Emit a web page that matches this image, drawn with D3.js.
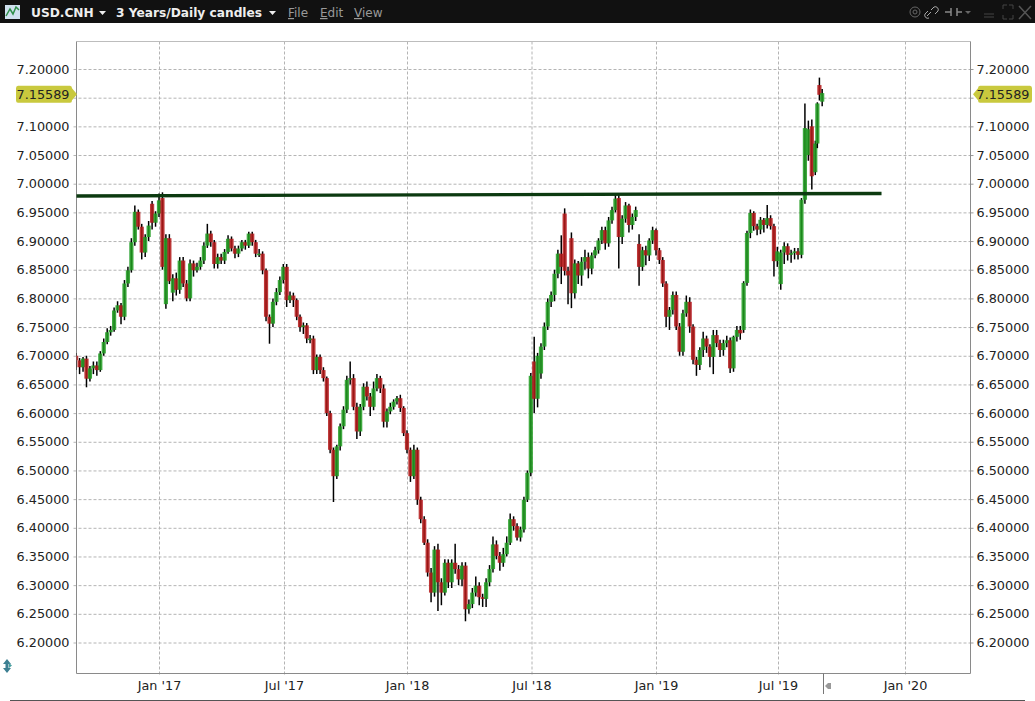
<!DOCTYPE html>
<html><head><meta charset="utf-8">
<script src="https://cdn.jsdelivr.net/npm/d3@7/dist/d3.min.js"></script>
<style>
html,body{margin:0;padding:0;background:#fff;overflow:hidden}
text{font-family:"DejaVu Sans",sans-serif}
</style></head><body><div id="chart"></div>
<script>
const title = "USD.CNH";
const period = "3 Years/Daily candles";
const menus = ["File","Edit","View"];
const lastPrice = 7.15589;
const yTicks = [6.2,6.25,6.3,6.35,6.4,6.45,6.5,6.55,6.6,6.65,6.7,6.75,6.8,6.85,6.9,6.95,7.0,7.05,7.1,7.15,7.2];
const xTickDates = ["2017-01-01","2017-07-01","2018-01-01","2018-07-01","2019-01-01","2019-07-01","2020-01-01"];
const xTickLabels = ["Jan '17","Jul '17","Jan '18","Jul '18","Jan '19","Jul '19","Jan '20"];
const supportDates = ["2016-09-01","2019-11-28"];
const supportValues = [6.9786,6.983];
const firstCandle = "2016-09-03";
const candleStepDays = 5;
const lastCandleDates = ["2019-08-27","2019-08-30","2019-09-03"];
const opens = [
6.700,6.692,6.680,6.695,6.660,6.678,6.683,6.675,6.704,6.724,
6.741,6.745,6.779,6.788,6.768,6.826,6.849,6.898,6.951,6.925,
6.880,6.907,6.965,6.932,6.948,6.975,6.790,6.905,6.810,6.835,
6.815,6.866,6.826,6.800,6.861,6.849,6.855,6.866,6.892,6.913,
6.898,6.860,6.872,6.866,6.881,6.904,6.887,6.878,6.887,6.898,
6.892,6.913,6.898,6.878,6.878,6.849,6.768,6.756,6.794,6.811,
6.832,6.855,6.797,6.805,6.797,6.768,6.750,6.753,6.730,6.730,
6.675,6.698,6.675,6.661,6.600,6.536,6.490,6.542,6.577,6.606,
6.658,6.661,6.611,6.568,6.611,6.646,6.629,6.611,6.643,6.661,
6.643,6.585,6.603,6.611,6.620,6.626,6.609,6.565,6.536,6.490,
6.536,6.449,6.415,6.374,6.322,6.287,6.362,6.305,6.287,6.339,
6.305,6.339,6.328,6.310,6.334,6.258,6.267,6.287,6.299,6.279,
6.276,6.305,6.328,6.371,6.351,6.339,6.354,6.374,6.415,6.403,
6.383,6.397,6.449,6.496,6.690,6.625,6.669,6.716,6.751,6.794,
6.806,6.843,6.878,6.948,6.848,6.905,6.809,6.861,6.840,6.864,
6.872,6.852,6.875,6.884,6.901,6.919,6.896,6.936,6.954,6.975,
6.907,6.939,6.962,6.928,6.942,6.895,6.855,6.884,6.875,6.901,
6.919,6.884,6.867,6.826,6.768,6.780,6.806,6.751,6.707,6.774,
6.794,6.751,6.693,6.684,6.710,6.730,6.716,6.698,6.736,6.722,
6.710,6.722,6.727,6.678,6.733,6.745,6.745,6.827,6.914,6.949,
6.926,6.920,6.937,6.928,6.940,6.926,6.865,6.825,6.880,6.891,
6.876,6.879,6.882,6.876,6.972,7.050,7.100,7.020,7.070,7.172,7.143];
const closes = [
6.692,6.680,6.695,6.660,6.678,6.683,6.675,6.704,6.724,6.741,
6.745,6.779,6.788,6.768,6.826,6.849,6.898,6.951,6.925,6.880,
6.907,6.927,6.932,6.948,6.971,6.855,6.905,6.830,6.835,6.815,
6.866,6.826,6.800,6.861,6.849,6.855,6.866,6.892,6.913,6.898,
6.860,6.872,6.866,6.881,6.904,6.887,6.878,6.887,6.898,6.892,
6.913,6.898,6.878,6.878,6.849,6.768,6.756,6.794,6.811,6.832,
6.855,6.797,6.805,6.797,6.768,6.750,6.753,6.730,6.730,6.675,
6.698,6.675,6.661,6.600,6.536,6.490,6.542,6.577,6.606,6.658,
6.661,6.611,6.568,6.611,6.646,6.629,6.611,6.643,6.661,6.643,
6.585,6.603,6.611,6.620,6.626,6.609,6.565,6.536,6.490,6.536,
6.449,6.415,6.374,6.322,6.287,6.362,6.305,6.287,6.339,6.305,
6.339,6.328,6.310,6.334,6.258,6.267,6.287,6.299,6.279,6.276,
6.305,6.328,6.371,6.351,6.339,6.354,6.374,6.415,6.403,6.383,
6.397,6.449,6.496,6.665,6.625,6.700,6.716,6.751,6.794,6.806,
6.843,6.878,6.855,6.848,6.840,6.809,6.861,6.840,6.864,6.872,
6.852,6.875,6.884,6.901,6.919,6.896,6.936,6.954,6.974,6.907,
6.939,6.962,6.928,6.942,6.954,6.855,6.884,6.875,6.901,6.919,
6.884,6.867,6.826,6.768,6.780,6.806,6.751,6.707,6.774,6.794,
6.751,6.693,6.684,6.710,6.730,6.716,6.698,6.736,6.722,6.710,
6.722,6.727,6.678,6.733,6.745,6.739,6.827,6.914,6.949,6.926,
6.920,6.937,6.928,6.940,6.926,6.865,6.882,6.880,6.891,6.876,
6.879,6.882,6.876,6.972,7.097,7.095,7.013,7.070,7.140,7.155,7.158];
const highs = [
6.705,6.696,6.698,6.700,6.682,6.690,6.690,6.708,6.730,6.748,
6.752,6.784,6.795,6.792,6.832,6.855,6.905,6.962,6.955,6.930,
6.912,6.935,6.970,6.952,6.983,6.985,6.912,6.912,6.842,6.845,
6.872,6.872,6.832,6.868,6.866,6.862,6.872,6.898,6.930,6.918,
6.902,6.878,6.878,6.886,6.910,6.908,6.892,6.892,6.902,6.902,
6.916,6.916,6.902,6.886,6.882,6.852,6.772,6.800,6.818,6.838,
6.860,6.860,6.812,6.810,6.800,6.772,6.758,6.757,6.736,6.735,
6.702,6.702,6.680,6.664,6.604,6.540,6.545,6.582,6.612,6.665,
6.690,6.668,6.618,6.616,6.652,6.655,6.635,6.655,6.668,6.665,
6.650,6.608,6.618,6.624,6.630,6.632,6.612,6.570,6.540,6.545,
6.540,6.454,6.420,6.380,6.330,6.368,6.372,6.312,6.345,6.345,
6.345,6.372,6.335,6.340,6.340,6.275,6.295,6.315,6.305,6.285,
6.312,6.335,6.385,6.378,6.358,6.365,6.385,6.425,6.420,6.408,
6.402,6.454,6.500,6.670,6.733,6.705,6.722,6.758,6.800,6.812,
6.850,6.885,6.910,6.957,6.855,6.915,6.868,6.865,6.872,6.885,
6.880,6.880,6.890,6.905,6.925,6.925,6.942,6.960,6.982,6.980,
6.945,6.968,6.965,6.948,6.960,6.912,6.890,6.892,6.905,6.925,
6.922,6.888,6.872,6.830,6.785,6.812,6.812,6.757,6.780,6.805,
6.802,6.755,6.698,6.715,6.742,6.735,6.720,6.745,6.745,6.728,
6.728,6.735,6.732,6.735,6.752,6.752,6.830,6.918,6.955,6.952,
6.930,6.942,6.940,6.963,6.945,6.930,6.890,6.885,6.898,6.896,
6.885,6.888,6.888,6.975,7.140,7.110,7.112,7.075,7.142,7.185,7.165];
const lows = [
6.675,6.668,6.672,6.645,6.655,6.668,6.665,6.672,6.700,6.720,
6.735,6.742,6.775,6.755,6.762,6.820,6.845,6.892,6.920,6.868,
6.872,6.900,6.920,6.925,6.942,6.850,6.782,6.825,6.795,6.805,
6.808,6.820,6.795,6.795,6.838,6.845,6.850,6.860,6.888,6.890,
6.852,6.852,6.860,6.860,6.878,6.882,6.870,6.872,6.882,6.885,
6.888,6.892,6.872,6.872,6.842,6.760,6.721,6.750,6.788,6.806,
6.826,6.785,6.792,6.785,6.762,6.742,6.738,6.722,6.722,6.668,
6.668,6.668,6.655,6.595,6.530,6.445,6.485,6.535,6.572,6.600,
6.650,6.605,6.555,6.560,6.605,6.622,6.595,6.605,6.638,6.635,
6.575,6.575,6.598,6.606,6.615,6.602,6.560,6.530,6.480,6.485,
6.440,6.408,6.370,6.315,6.270,6.280,6.255,6.265,6.282,6.295,
6.295,6.320,6.300,6.298,6.237,6.250,6.260,6.280,6.265,6.262,
6.262,6.298,6.322,6.345,6.325,6.332,6.350,6.370,6.395,6.378,
6.376,6.392,6.445,6.490,6.600,6.610,6.660,6.710,6.745,6.785,
6.795,6.835,6.825,6.840,6.790,6.783,6.800,6.825,6.822,6.850,
6.835,6.842,6.870,6.878,6.895,6.885,6.890,6.930,6.950,6.852,
6.895,6.932,6.915,6.920,6.935,6.822,6.848,6.858,6.865,6.895,
6.875,6.860,6.820,6.750,6.745,6.772,6.745,6.700,6.700,6.768,
6.740,6.685,6.665,6.675,6.698,6.705,6.680,6.668,6.715,6.698,
6.700,6.715,6.670,6.672,6.725,6.728,6.740,6.822,6.905,6.918,
6.910,6.912,6.915,6.922,6.920,6.838,6.855,6.815,6.860,6.866,
6.862,6.868,6.868,6.870,6.965,7.040,6.990,7.015,7.062,7.145,7.135];

const W = 1035, H = 701;
const plot = {left:76.5, right:970.5, top:41.5, bottom:673.5};
const parse = d3.utcParse("%Y-%m-%d");
const tickDates = xTickDates.map(parse);
const x = d3.scaleUtc().domain(tickDates).range([159,284,407,531.5,656,778,905]);
const y = d3.scaleLinear().domain([6.2,7.2]).range([642.5,69]);

const regular = d3.range(closes.length - lastCandleDates.length)
  .map(i => d3.utcDay.offset(parse(firstCandle), i * candleStepDays));
const dates = regular.concat(lastCandleDates.map(parse));

const svg = d3.select("#chart").append("svg").attr("width",W).attr("height",H)
  .style("display","block");
svg.append("defs").append("filter").attr("id","soft")
  .append("feGaussianBlur").attr("stdDeviation",0.35);

// Frame
const dashGrid = "3,2";
const xAxis = d3.axisBottom(x).tickValues(tickDates)
  .tickFormat((d,i) => xTickLabels[i]).tickSize(0);
const gx = svg.append("g").attr("transform",`translate(0,${plot.bottom})`).call(xAxis);
gx.select(".domain").remove();
gx.selectAll(".tick line").attr("y1",-(plot.bottom-plot.top)).attr("y2",3)
  .attr("stroke","#b4b4b4").attr("stroke-dasharray",dashGrid);
gx.selectAll(".tick text").attr("y",7).attr("dy","0.71em")
  .attr("font-size",12.8).attr("fill","#222").attr("font-family","DejaVu Sans");

const yLeft = d3.axisLeft(y).tickValues(yTicks).tickFormat(d3.format(".5f")).tickSize(0);
const gyl = svg.append("g").attr("transform",`translate(${plot.left},0)`).call(yLeft);
gyl.select(".domain").remove();
gyl.selectAll(".tick line").attr("x1",-3).attr("x2",plot.right-plot.left)
  .attr("stroke","#b4b4b4").attr("stroke-dasharray",dashGrid);
gyl.selectAll(".tick text").attr("x",-7)
  .attr("font-size",12.8).attr("fill","#222").attr("font-family","DejaVu Sans");

const yRight = d3.axisRight(y).tickValues(yTicks).tickFormat(d3.format(".5f")).tickSize(0);
const gyr = svg.append("g").attr("transform",`translate(${plot.right},0)`).call(yRight);
gyr.select(".domain").remove();
gyr.selectAll(".tick line").attr("x1",0).attr("x2",3).attr("stroke","#999");
gyr.selectAll(".tick text").attr("x",6)
  .attr("font-size",12.8).attr("fill","#222").attr("font-family","DejaVu Sans");

// The last-price tags sit on top of the nearest tick label
const hiddenTick = yTicks.reduce((a,b)=>Math.abs(b-lastPrice)<Math.abs(a-lastPrice)?b:a);
[gyl,gyr].forEach(g=>g.selectAll(".tick").filter(d=>d===hiddenTick).select("text").remove());

// Plot border
const border = [
  [plot.left,plot.top,plot.right,plot.top,"#bdbdbd"],
  [plot.left,plot.top,plot.left,plot.bottom,"#8a8a8a"],
  [plot.right,plot.top,plot.right,plot.bottom,"#8a8a8a"],
  [plot.left,plot.bottom,plot.right,plot.bottom,"#8a8a8a"]];
svg.append("g").selectAll("line").data(border).join("line")
  .attr("x1",d=>d[0]).attr("y1",d=>d[1]).attr("x2",d=>d[2]).attr("y2",d=>d[3])
  .attr("stroke",d=>d[4]);

// Candles
const clip = svg.append("clipPath").attr("id","plotclip").append("rect")
  .attr("x",plot.left).attr("y",plot.top)
  .attr("width",plot.right-plot.left).attr("height",plot.bottom-plot.top);
const candles = svg.append("g").attr("clip-path","url(#plotclip)").append("g").attr("filter","url(#soft)");
const idx = d3.range(closes.length);
const groups = candles.selectAll("g").data(idx).join("g");
groups.append("line")
  .attr("x1",i=>x(dates[i])).attr("x2",i=>x(dates[i]))
  .attr("y1",i=>y(highs[i])).attr("y2",i=>y(lows[i]))
  .attr("stroke","#000").attr("stroke-width",1.5);
const bodyW = 4.2;
groups.append("rect")
  .attr("x",i=>x(dates[i])-bodyW/2).attr("width",bodyW)
  .attr("y",i=>y(Math.max(opens[i],closes[i])))
  .attr("height",i=>Math.max(1.5,Math.abs(y(opens[i])-y(closes[i]))))
  .attr("fill",i=>closes[i]>=opens[i]?"#1f9c22":"#b3161a")
  .attr("fill-opacity",0.86);

// Support trend line
svg.append("line")
  .attr("x1",plot.left).attr("x2",x(parse(supportDates[1])))
  .attr("y1",y(supportValues[0])).attr("y2",y(supportValues[1]))
  .attr("stroke","#0c3a10").attr("stroke-width",3.4);

// Last price tags
const tagY = y(lastPrice);
const tags = svg.append("g");
tags.append("path")
  .attr("d",`M18,${tagY-8.5}H70Q72,${tagY-8.5} 72,${tagY-6}L77,${tagY}L72,${tagY+6}Q72,${tagY+8.5} 70,${tagY+8.5}H18Q16,${tagY+8.5} 16,${tagY+6}V${tagY-6}Q16,${tagY-8.5} 18,${tagY-8.5}Z`)
  .attr("fill","#c9c93e");
tags.append("path")
  .attr("d",`M980,${tagY-8.5}H1030Q1032,${tagY-8.5} 1032,${tagY-6}V${tagY+6}Q1032,${tagY+8.5} 1030,${tagY+8.5}H980Q978,${tagY+8.5} 978,${tagY+6}L973,${tagY}L978,${tagY-6}Q978,${tagY-8.5} 980,${tagY-8.5}Z`)
  .attr("fill","#c9c93e");
const priceText = d3.format(".5f")(lastPrice);
tags.append("text").attr("x",69.5).attr("y",tagY).attr("dy","0.36em").attr("text-anchor","end")
  .attr("font-size",12.8).attr("fill","#222").text(priceText);
tags.append("text").attr("x",976.5).attr("y",tagY).attr("dy","0.36em")
  .attr("font-size",12.8).attr("fill","#222").text(priceText);

// Header bar
const hdr = svg.append("g");
hdr.append("rect").attr("width",W).attr("height",23).attr("fill","#111");
hdr.append("rect").attr("x",5).attr("y",5).attr("width",15).attr("height",14).attr("fill","#cfe0ee");
hdr.append("path").attr("d","M6,16 L10,9 L13,14 L16,7 L19,10").attr("fill","none").attr("stroke","#2f8f4a").attr("stroke-width",1.5);
hdr.append("text").attr("x",31).attr("y",17).attr("font-size",12.2).attr("font-weight","bold").attr("fill","#eee").text(title);
hdr.append("path").attr("d","M99,11h7l-3.5,4z").attr("fill","#eee");
hdr.append("text").attr("x",116).attr("y",17).attr("font-size",12.2).attr("font-weight","bold").attr("fill","#eee").text(period);
hdr.append("path").attr("d","M269,11h7l-3.5,4z").attr("fill","#eee");
const menuX = [288,320,354];
menus.forEach((m,i)=>{
  const t = hdr.append("text").attr("x",menuX[i]).attr("y",17).attr("font-size",12).attr("fill","#999");
  t.append("tspan").attr("text-decoration","underline").text(m[0]);
  t.append("tspan").text(m.slice(1));
});
const icons = hdr.append("g").attr("fill","none").attr("stroke","#666");
icons.append("circle").attr("cx",915).attr("cy",12).attr("r",5);
icons.append("circle").attr("cx",915).attr("cy",12).attr("r",2);
icons.append("path").attr("d","M927,16l4,-4m-2,6a3,3 0 0 1 -4,-4l3,-3m3,-1l3,-3a3,3 0 0 1 4,4l-3,3").attr("stroke","#aaa");
icons.append("path").attr("d","M945,12h6m6,0h5M951,8v8M957,8v8").attr("stroke","#888").attr("stroke-width",1.5);
hdr.append("path").attr("d","M965,11h6l-3,3z").attr("fill","#666");
icons.append("path").attr("d","M984,14h10M984,17h10").attr("stroke","#444");
icons.append("path").attr("d","M1003,9V5h4M1009,5h4V9M1013,15v4h-4M1007,19h-4v-4").attr("stroke","#444");
icons.append("path").attr("d","M1019,6l12,13M1031,6l-12,13").attr("stroke","#555").attr("stroke-width",1.5);

// Bottom strip
svg.append("line").attr("x1",823.5).attr("x2",823.5).attr("y1",plot.bottom).attr("y2",694).attr("stroke","#777");
svg.append("path").attr("d","M825,686l3,-3h3v6h-3z").attr("fill","#999");
svg.append("path").attr("d","M7,659l-4,5h2.5v4h-2.5l4,5 4,-5h-2.5v-4h2.5z").attr("fill","#3d7f92");
svg.append("path").attr("d","M9,663l3,2.5 -3,2.5z").attr("fill","#4aa0a0");
svg.append("line").attr("x1",10).attr("x2",1025).attr("y1",700.5).attr("y2",700.5).attr("stroke","#555");
</script></body></html>
